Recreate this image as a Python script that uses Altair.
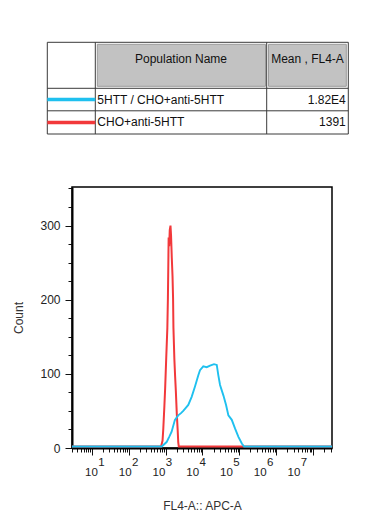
import math
import altair as alt
import pandas as pd

# ---------------- data ----------------
# table contents
header_names = ["Population Name", "Mean , FL4-A"]
pop_names = ["5HTT / CHO+anti-5HTT", "CHO+anti-5HTT"]
pop_means = ["1.82E4", "1391"]
series_colors = ["#1fc0ef", "#f2393b"]

# histograms: x = log10(FL4-A), y = count
blue_log = [0.466, 2.90, 2.92, 3.03, 3.10, 3.166, 3.255, 3.345, 3.42, 3.481, 3.55, 3.617,
            3.709, 3.799, 3.889, 3.935, 4.024, 4.117, 4.207, 4.315, 4.389, 4.432, 4.478,
            4.568, 4.641, 4.704, 4.796, 4.886, 4.976, 5.068, 5.13, 7.512]
blue_count = [0, 0, 1, 6, 13, 20, 36, 42, 45, 48, 52, 56,
              67, 81, 96, 103, 108, 107, 109, 111, 110, 96, 83,
              69, 56, 42, 36, 24, 13, 4, 0, 0]
red_log = [0.466, 2.88, 2.92, 2.94, 2.97, 2.99, 3.02, 3.05, 3.065, 3.075, 3.085, 3.10,
           3.115, 3.135, 3.15, 3.17, 3.19, 3.205, 3.215, 3.24, 3.26, 3.28, 3.305, 3.33,
           3.345, 3.36, 7.512]
red_count = [0, 0, 8, 24, 55, 78, 120, 160, 200, 240, 282, 270,
             292, 298, 285, 255, 230, 200, 160, 118, 95, 75, 45, 22,
             6, 0, 0]

x_decades = [1, 2, 3, 4, 5, 6, 7]
y_ticks = list(range(0, 351, 25))

# ---------------- layout ----------------
W, H = 260, 261
X0, Y0 = 72, 187                # page position of the plot area
X_DOM = [0.466, 7.512]
Y_DOM = [0, 352]
FONT = "Liberation Sans"

x_ticks = sorted(set(x_decades + [round(n + math.log10(k), 4)
                                  for n in range(0, 8) for k in range(2, 10)
                                  if X_DOM[0] <= n + math.log10(k) <= X_DOM[1]]))

MAJOR = "abs(datum.value - round(datum.value)) < 0.001"
OFFS = "(-0.7 - (datum.value - 1) * 3.15)"

x_scale = alt.Scale(domain=X_DOM, nice=False, zero=False)
y_scale = alt.Scale(domain=Y_DOM, nice=False, zero=False)

x_main = alt.X(
    "logv:Q", scale=x_scale,
    axis=alt.Axis(values=x_ticks, orient="bottom", grid=False, title="FL4-A:: APC-A",
                  tickSize={"expr": f"{MAJOR} ? 7 : 4"},
                  labelExpr=f"{MAJOR} ? '10' : ''",
                  labelOffset={"expr": OFFS},
                  labelOverlap=False, labelFlush=False, labelBound=False,
                  labelFontSize=11.5, labelPadding=11,
                  titlePadding=23, titleFontSize=12,
                  domainColor="black", domainWidth=2, tickColor="#111", tickWidth=1))
y_main = alt.Y(
    "count:Q", scale=y_scale,
    axis=alt.Axis(values=y_ticks, grid=False, title="Count",
                  tickSize={"expr": "datum.value % 100 == 0 ? 7 : 4"},
                  labelExpr="datum.value % 100 == 0 ? datum.label : ''",
                  labelOverlap=False, labelFlush=False, labelBound=False,
                  labelFontSize=12, labelPadding=5,
                  titlePadding=14, titleFontSize=12,
                  domainColor="black", domainWidth=2, tickColor="#111", tickWidth=1))

red_df = pd.DataFrame({"logv": red_log, "count": red_count})
blue_df = pd.DataFrame({"logv": blue_log, "count": blue_count})

red_line = alt.Chart(red_df).mark_line(color=series_colors[1], strokeWidth=2, yOffset=-1.5).encode(
    x=x_main, y=y_main)
blue_line = alt.Chart(blue_df).mark_line(color=series_colors[0], strokeWidth=1.9, yOffset=-1.5).encode(
    x=x_main, y=y_main)
lines = alt.layer(red_line, blue_line)

sup_df = pd.DataFrame({"logv": x_decades})
sup_axis = alt.Chart(sup_df).mark_point(opacity=0).encode(
    x=alt.X("logv:Q", scale=x_scale,
            axis=alt.Axis(values=x_decades, orient="bottom", grid=False, title=None,
                          domain=False, ticks=False, tickSize=0,
                          labelExpr="format(datum.value, 'd')",
                          labelOffset={"expr": OFFS + " + 10"},
                          labelOverlap=False, labelFlush=False, labelBound=False,
                          labelFontSize=11.5, labelPadding=8))
)

hist = alt.layer(lines, sup_axis).resolve_axis(x="independent")

# ---------------- table (drawn in page coordinates) ----------------
T_LEFT, T_C1, T_C2, T_RIGHT = 47.3, 95.3, 266.7, 348.3
T_TOP, T_HDR, T_R1, T_R2 = 42.3, 88.3, 110.8, 134.0

tx = alt.Scale(domain=[X0, X0 + W], nice=False, zero=False)
ty = alt.Scale(domain=[Y0, Y0 + H], reverse=True, nice=False, zero=False)

hlines = pd.DataFrame({"x1": [T_LEFT] * 4, "x2": [T_RIGHT] * 4,
                       "y1": [T_TOP, T_HDR, T_R1, T_R2], "y2": [T_TOP, T_HDR, T_R1, T_R2]})
vlines = pd.DataFrame({"x1": [T_LEFT, T_C1, T_C2, T_RIGHT], "x2": [T_LEFT, T_C1, T_C2, T_RIGHT],
                       "y1": [T_TOP] * 4, "y2": [T_R2] * 4})
grid_lines = pd.concat([hlines, vlines], ignore_index=True)

header_cells = pd.DataFrame({"x1": [T_C1 + 2, T_C2 + 1.8], "x2": [T_C2 - 1.2, T_RIGHT - 2],
                             "y1": [T_TOP + 2, T_TOP + 2], "y2": [T_HDR - 2, T_HDR - 2]})
row_mid = [(T_HDR + T_R1) / 2, (T_R1 + T_R2) / 2]

swatches = pd.DataFrame({"x1": [T_LEFT, T_LEFT], "x2": [T_C1, T_C1], "y": row_mid,
                         "c": series_colors})
hdr_text = pd.DataFrame({"x": [(T_C1 + T_C2) / 2, (T_C2 + T_RIGHT) / 2],
                         "y": [T_TOP + 17, T_TOP + 17], "t": header_names})
name_text = pd.DataFrame({"x": [T_C1 + 2] * 2, "y": row_mid, "t": pop_names})
mean_text = pd.DataFrame({"x": [T_RIGHT - 2.5] * 2, "y": row_mid, "t": pop_means})

cells = alt.Chart(header_cells).mark_rect(fill="#c2c2c2", stroke="#9c9c9c", strokeWidth=1).encode(
    x=alt.X("x1:Q", scale=tx, axis=None), x2="x2:Q",
    y=alt.Y("y1:Q", scale=ty, axis=None), y2="y2:Q")
rules = alt.Chart(grid_lines).mark_rule(color="#3a3a3a", strokeWidth=1).encode(
    x=alt.X("x1:Q", scale=tx, axis=None), x2="x2:Q",
    y=alt.Y("y1:Q", scale=ty, axis=None), y2="y2:Q")
sw = alt.Chart(swatches).mark_rule(strokeWidth=3.5).encode(
    x=alt.X("x1:Q", scale=tx, axis=None), x2="x2:Q",
    y=alt.Y("y:Q", scale=ty, axis=None),
    color=alt.Color("c:N", scale=None))
t_hdr = alt.Chart(hdr_text).mark_text(align="center", baseline="middle", font=FONT,
                                      fontSize=12, color="#111").encode(
    x=alt.X("x:Q", scale=tx, axis=None), y=alt.Y("y:Q", scale=ty, axis=None), text="t:N")
t_name = alt.Chart(name_text).mark_text(align="left", baseline="middle", font=FONT,
                                        fontSize=12, color="#111").encode(
    x=alt.X("x:Q", scale=tx, axis=None), y=alt.Y("y:Q", scale=ty, axis=None), text="t:N")
t_mean = alt.Chart(mean_text).mark_text(align="right", baseline="middle", font=FONT,
                                        fontSize=12, color="#111").encode(
    x=alt.X("x:Q", scale=tx, axis=None), y=alt.Y("y:Q", scale=ty, axis=None), text="t:N")

table = alt.layer(cells, rules, sw, t_hdr, t_name, t_mean)

chart = alt.layer(hist, table).resolve_scale(x="independent", y="independent").properties(
    width=W, height=H,
    autosize=alt.AutoSizeParams(type="none"),
    padding={"left": X0 - 8, "top": Y0 - 8, "right": 381 - 16 - (X0 - 8) - W,
             "bottom": 531 - 16 - (Y0 - 8) - H},
).configure_view(stroke="black", strokeWidth=1.5).configure_axis(
    labelFont=FONT, titleFont=FONT, labelColor="#222", titleColor="#333",
    titleFontWeight="normal"
)

chart.save("out.html", embed_options={"renderer": "svg", "actions": False})
